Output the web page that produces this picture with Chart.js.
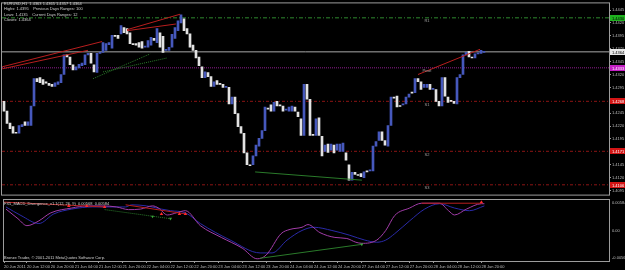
<!DOCTYPE html>
<html>
<head>
<meta charset="utf-8">
<script src="https://cdn.jsdelivr.net/npm/chart.js@4.4.0/dist/chart.umd.min.js"></script>
<style>
html, body { margin: 0; padding: 0; background: #000; }
#wrap { position: relative; width: 625px; height: 270px; overflow: hidden; background: #000; }
#main { position: absolute; left: 0; top: 0; }
#macd { position: absolute; left: 0; top: 196px; }
</style>
</head>
<body>
<div id="wrap">
  <canvas id="main" width="625" height="198"></canvas>
  <canvas id="macd" width="625" height="74"></canvas>
</div>
<script>
// EURUSD H1, bar 0 = 20 Jun 05:00
const opens = [
  1.4268,1.4249,1.4226,1.4219,1.4208,1.4206,1.4219,1.4228,1.4221,1.4221,
  1.4259,1.4312,1.4314,1.4310,1.4306,1.4303,1.4301,1.4297,1.4301,1.4304,
  1.4320,1.4358,1.4354,1.4339,1.4329,1.4333,1.4337,1.4339,1.4358,1.4361,
  1.4339,1.4324,1.4361,1.4363,1.4367,1.4378,1.4371,1.4396,1.4396,1.4399,
  1.4411,1.4409,1.4401,1.4380,1.4380,1.4382,1.4384,1.4373,1.4373,1.4377,
  1.4390,1.4382,1.4401,1.4394,1.4367,1.4367,1.4373,1.4390,1.4405,1.4420,
  1.4428,1.4409,1.4399,1.4377,1.4367,1.4354,1.4335,1.4314,1.4324,1.4316,
  1.4297,1.4308,1.4303,1.4301,1.4295,1.4295,1.4263,1.4276,1.4244,1.4219,
  1.4206,1.4168,1.4145,1.4145,1.4162,1.4181,1.4196,1.4211,1.4255,1.4261,
  1.4249,1.4268,1.4261,1.4259,1.4251,1.4249,1.4249,1.4257,1.4247,1.4234,
  1.4202,1.4301,1.4272,1.4204,1.4202,1.4236,1.4200,1.4171,1.4185,1.4173,
  1.4183,1.4173,1.4171,1.4171,1.4168,1.4145,1.4115,1.4130,1.4126,1.4128,
  1.4120,1.4133,1.4133,1.4133,1.4181,1.4192,1.4209,1.4192,1.4181,1.4221,
  1.4276,1.4278,1.4259,1.4261,1.4263,1.4276,1.4285,1.4285,1.4312,1.4306,
  1.4295,1.4295,1.4301,1.4291,1.4291,1.4268,1.4259,1.4314,1.4276,1.4270,
  1.4268,1.4263,1.4314,1.4320,1.4358,1.4365,1.4354,1.4352,1.4360,1.4361,
  1.4363
];
const closes = [
  1.4249,1.4225,1.4215,1.4206,1.4206,1.4221,1.4223,1.4221,1.4228,1.4259,
  1.4312,1.4306,1.4304,1.4301,1.4303,1.4299,1.4297,1.4304,1.4306,1.4320,
  1.4358,1.4354,1.4339,1.4329,1.4335,1.4340,1.4342,1.4358,1.4361,1.4342,
  1.4325,1.4361,1.4363,1.4382,1.4380,1.4382,1.4396,1.4394,1.4390,1.4415,
  1.4401,1.4399,1.4380,1.4378,1.4377,1.4373,1.4371,1.4375,1.4386,1.4392,
  1.4386,1.4409,1.4373,1.4363,1.4369,1.4373,1.4398,1.4411,1.4424,1.4436,
  1.4405,1.4399,1.4373,1.4367,1.4352,1.4337,1.4314,1.4325,1.4316,1.4297,
  1.4306,1.4301,1.4301,1.4295,1.4297,1.4263,1.4276,1.4244,1.4219,1.4206,
  1.4168,1.4145,1.4143,1.4162,1.4183,1.4196,1.4211,1.4257,1.4253,1.4249,
  1.4266,1.4259,1.4259,1.4249,1.4253,1.4257,1.4259,1.4249,1.4238,1.4202,
  1.4301,1.4272,1.4202,1.4202,1.4234,1.4202,1.4162,1.4183,1.4169,1.4185,
  1.4168,1.4185,1.4185,1.4187,1.4154,1.4115,1.4130,1.4126,1.4124,1.4122,
  1.4131,1.4131,1.4135,1.4181,1.4190,1.4209,1.4192,1.4183,1.4221,1.4276,
  1.4274,1.4257,1.4258,1.4263,1.4276,1.4282,1.4284,1.4312,1.4306,1.4291,
  1.4301,1.4301,1.4291,1.4293,1.4268,1.4259,1.4314,1.4278,1.4266,1.4268,
  1.4264,1.4314,1.4320,1.4358,1.4363,1.4354,1.4352,1.4360,1.4361,1.4367,
  1.4364
];

const priceTicks = [1.4445,1.4420,1.4395,1.4370,1.4345,1.4320,1.4295,1.4270,1.4245,1.4220,1.4195,1.4170,1.4145,1.4120,1.4095];

// pivot levels
const levelNames = ['R1', 'Pivot', 'S1', 'S2', 'S3'];
const levelValues = [1.4430, 1.4333, 1.4268, 1.4171, 1.4106];
const lastPrice = 1.4364;

// price boxes on the right axis
const axisMarkValues = [1.4430, 1.4364, 1.4333, 1.4268, 1.4171, 1.4106];
const axisMarkText = ['1.4430', '1.4364', '1.4333', '1.4268', '1.4171', '1.4106'];
const axisMarkColors = ['#1fb21f', '#e8e8e8', '#c41fc4', '#d41515', '#d41515', '#d41515'];

// divergence lines on price, [[bar, price], [bar, price]]
const priceBearLines = [
  [[-0.6, 1.4335], [32.7, 1.4384]],
  [[-0.6, 1.4331], [28, 1.4367]],
  [[41, 1.4407], [58.7, 1.4437]],
  [[41, 1.4405], [57.3, 1.4418]],
  [[138, 1.4320], [158.7, 1.4369]]
];
const priceBullDotted = [
  [[29.7, 1.4312], [48.7, 1.4360]],
  [[33, 1.4325], [54.3, 1.4352]]
];
const priceBullLines = [
  [[83.7, 1.4131], [119.3, 1.4115]]
];

// MACD (12,26,9)
const macdBars = [0,4,7,11,15,22,27,32,37,41,45,49,51,54,57,60,65,72,79,84,87,92,95,99,101,105,110,114,117,119,124,127,130,135,139,145,148,150,154,159,160];
const macdMain = [0.0041,0.0023,0.0010,0.0019,0.0034,0.0043,0.0047,0.0047,0.0045,0.0040,0.0041,0.0047,0.0043,0.0030,0.0034,0.0038,0.0010,-0.0012,-0.0032,-0.0052,-0.0045,-0.0005,0.0003,0.0007,0.0012,-0.0003,-0.0012,-0.0014,-0.0021,-0.0023,-0.0017,0.0001,0.0029,0.0043,0.0052,0.0052,0.0038,0.0030,0.0041,0.0051,0.0051];
const signalBars = [0,5,11,16,22,29,40,42,47,52,55,60,65,75,85,89,94,99,103,109,115,120,124,127,130,135,140,145,150,155,160];
const macdSignal = [0.0045,0.0029,0.0014,0.0032,0.0041,0.0045,0.0045,0.0049,0.0047,0.0041,0.0038,0.0034,0.0014,-0.0017,-0.0041,-0.0041,-0.0017,0.0001,0.0007,0.0001,-0.0008,-0.0017,-0.0021,-0.0017,-0.0005,0.0019,0.0041,0.0051,0.0043,0.0038,0.0047];

const macdBearLines = [
  [[-0.6, 0.0054], [33, 0.0045]],
  [[40, 0.0049], [60, 0.0032]],
  [[139, 0.0052], [159, 0.0052]]
];
const macdBullDotted = [[[33, 0.0040], [55, 0.0023]]];
const macdBullLines = [[[85, -0.0051], [119, -0.0025]]];
const bearArrows = [[21, 0.0047], [27, 0.0047], [33, 0.0045], [52, 0.0032], [58, 0.0032], [60, 0.0032], [159, 0.0054]];
const bullArrows = [[49, 0.0027], [55, 0.0023], [119, -0.0025]];
const macdAxisText = ['0.005846', '0.00', '-0.005643'];
const macdMin = -0.00561, macdMax = 0.0058;

const timeLabels = ['20 Jun 2011','20 Jun 12:00','20 Jun 20:00','21 Jun 04:00','21 Jun 12:00','21 Jun 20:00',
  '22 Jun 04:00','22 Jun 12:00','22 Jun 20:00','23 Jun 04:00','23 Jun 12:00','23 Jun 20:00',
  '24 Jun 04:00','24 Jun 12:00','24 Jun 20:00','27 Jun 04:00','27 Jun 12:00','27 Jun 20:00',
  '28 Jun 04:00','28 Jun 12:00','28 Jun 20:00'];
const timeTickBars = [-0.67,7,15,23,31,39,47,55,63,71,79,87,95,103,111,119,127,135,143,151,159];

const headerLines = [
  'EURUSD,H1  1.4363 1.4365 1.4357 1.4364',
  'Highs: 1.4395    Previous Days Ranges: 100',
  'Lows: 1.4135    Current Days Ranges: 12',
  'Closes: 1.4364'
];
const macdTitle = 'FX5_MACD_Divergence_v1.1(12, 26, 9)  0.00568  0.00584';
const copyright = 'Bronze Trader, \u00a9 2001-2011 MetaQuotes Software Corp.';

const X_MIN = -0.67, X_MAX = 201.67;
const FONT = '4px "Liberation Sans"';
const FRAME = '#9c9c9c';

const seg = (pts, color, dash, order) => ({
  type: 'line',
  data: pts.map(p => ({x: p[0], y: p[1]})),
  borderColor: color,
  borderWidth: 1,
  borderDash: dash,
  pointRadius: 0,
  order: order
});
const hline = (v, color, dash) => seg([[X_MIN, v], [X_MAX, v]], color, dash, 5);

const levelStyles = [['#2f8a2f', [4, 2, 1, 2]], ['#8e1c8e', [1, 1]], ['#8c1414', [3, 2, 1, 2]], ['#8c1414', [3, 2, 1, 2]], ['#8c1414', [3, 2, 1, 2]]];

const mainDatasets = [
  {
    type: 'bar',
    data: opens.map((o, i) => ({x: i, y: [o, closes[i]]})),
    backgroundColor: opens.map((o, i) => closes[i] > o ? '#4658bc' : '#e2e2e2'),
    borderWidth: 0,
    barThickness: 2,
    minBarLength: 1,
    order: 2
  },
  hline(lastPrice, '#a8a8a8', []),
  ...levelValues.map((v, k) => hline(v, levelStyles[k][0], levelStyles[k][1])),
  ...priceBearLines.map(l => seg(l, '#b81e1e', [], 0)),
  ...priceBullDotted.map(l => seg(l, '#2a7a2a', [1, 1], 0)),
  ...priceBullLines.map(l => seg(l, '#2a7a2a', [], 0))
];

const mainDecor = {
  id: 'mainDecor',
  afterDraw(chart) {
    const {ctx, chartArea: a} = chart;
    const x = chart.scales.x, y = chart.scales.y;
    ctx.save();
    ctx.strokeStyle = FRAME;
    ctx.lineWidth = 1;
    ctx.strokeRect(a.left - 0.5, a.top - 0.5, a.right - a.left + 1, a.bottom - a.top + 1);
    ctx.font = FONT;
    ctx.textBaseline = 'top';
    ctx.textAlign = 'center';
    ctx.fillStyle = '#a0a0a0';
    levelNames.forEach((n, k) => {
      ctx.fillText(n, x.getPixelForValue(141), y.getPixelForValue(levelValues[k]) + 1.5);
    });
    ctx.textAlign = 'left';
    ctx.textBaseline = 'middle';
    axisMarkValues.forEach((v, k) => {
      const py = Math.round(y.getPixelForValue(v));
      ctx.fillStyle = axisMarkColors[k];
      ctx.fillRect(a.right + 1, py - 3, 15, 6);
      ctx.fillStyle = k < 2 ? '#000' : '#fff';
      ctx.fillText(axisMarkText[k], a.right + 3, py + 0.5);
    });
    ctx.fillStyle = '#d0d0d0';
    ctx.textBaseline = 'top';
    headerLines.forEach((t, k) => ctx.fillText(t, 4, 2 + k * 5.3));
    ctx.restore();
  }
};

new Chart(document.getElementById('main'), {
  type: 'bar',
  data: {datasets: mainDatasets},
  options: {
    responsive: false,
    animation: false,
    layout: {padding: {left: 2, top: 2, right: 0, bottom: 1}},
    plugins: {legend: {display: false}, tooltip: {enabled: false}},
    scales: {
      x: {type: 'linear', min: X_MIN, max: X_MAX, offset: false, display: false},
      y: {
        type: 'linear',
        position: 'right',
        min: 1.4087,
        max: 1.4458,
        afterBuildTicks: (axis) => { axis.ticks = priceTicks.map(v => ({value: v})); },
        afterFit: (axis) => { axis.width = 16; },
        grid: {drawOnChartArea: false, tickLength: 2, color: FRAME},
        border: {display: false},
        ticks: {
          color: '#bcbcbc',
          font: {family: 'Liberation Sans', size: 4},
          padding: 1,
          callback: (v) => v.toFixed(4)
        }
      }
    }
  },
  plugins: [mainDecor]
});

const macdDatasets = [
  ...macdBearLines.map(l => seg(l, '#b81e1e', [], 1)),
  ...macdBullDotted.map(l => seg(l, '#2a7a2a', [1, 1], 1)),
  ...macdBullLines.map(l => seg(l, '#2a7a2a', [], 1)),
  {
    type: 'line',
    data: macdSignal.map((v, k) => ({x: signalBars[k], y: v})),
    borderColor: '#2a2aa8',
    borderWidth: 1,
    pointRadius: 0,
    cubicInterpolationMode: 'monotone',
    order: 3
  },
  {
    type: 'line',
    data: macdMain.map((v, k) => ({x: macdBars[k], y: v})),
    borderColor: '#a23ca8',
    borderWidth: 1,
    pointRadius: 0,
    cubicInterpolationMode: 'monotone',
    order: 2
  },
  {
    type: 'scatter',
    data: bearArrows.map(p => ({x: p[0], y: p[1]})),
    pointStyle: 'triangle',
    radius: 2,
    backgroundColor: '#ff2a2a',
    borderColor: '#ff2a2a',
    borderWidth: 0,
    order: 0
  },
  {
    type: 'scatter',
    data: bullArrows.map(p => ({x: p[0], y: p[1]})),
    pointStyle: 'triangle',
    rotation: 180,
    radius: 1.8,
    backgroundColor: '#3aa83a',
    borderColor: '#3aa83a',
    borderWidth: 0,
    order: 0
  }
];

const macdDecor = {
  id: 'macdDecor',
  afterDraw(chart) {
    const {ctx, chartArea: a} = chart;
    const y = chart.scales.y;
    ctx.save();
    ctx.strokeStyle = FRAME;
    ctx.lineWidth = 1;
    ctx.strokeRect(a.left - 0.5, a.top - 0.5, a.right - a.left + 1, a.bottom - a.top + 1);
    ctx.font = FONT;
    ctx.fillStyle = '#d0d0d0';
    ctx.textBaseline = 'top';
    ctx.fillText(macdTitle, 4, a.top + 2);
    ctx.textBaseline = 'bottom';
    ctx.fillText(copyright, 4, a.bottom - 1);
    ctx.fillStyle = '#bcbcbc';
    ctx.textBaseline = 'middle';
    const ys = [y.getPixelForValue(macdMax) + 3, y.getPixelForValue(0), y.getPixelForValue(macdMin) - 3];
    ys.forEach((py, k) => ctx.fillText(macdAxisText[k], a.right + 3, py));
    ctx.restore();
  }
};

new Chart(document.getElementById('macd'), {
  type: 'line',
  data: {datasets: macdDatasets},
  options: {
    responsive: false,
    animation: false,
    layout: {padding: {left: 2, top: 3, right: 0, bottom: 0}},
    plugins: {legend: {display: false}, tooltip: {enabled: false}},
    scales: {
      x: {
        type: 'linear',
        min: X_MIN,
        max: X_MAX,
        offset: false,
        afterBuildTicks: (axis) => { axis.ticks = timeTickBars.map(v => ({value: v})); },
        afterFit: (axis) => { axis.height = 9; },
        grid: {drawOnChartArea: false, tickLength: 2, color: FRAME},
        border: {display: false},
        ticks: {
          color: '#bcbcbc',
          font: {family: 'Liberation Sans', size: 4},
          padding: 1,
          align: 'start',
          maxRotation: 0,
          autoSkip: false,
          callback: (v, i) => timeLabels[i]
        }
      },
      y: {
        type: 'linear',
        position: 'right',
        min: macdMin,
        max: macdMax,
        afterFit: (axis) => { axis.width = 16; },
        grid: {display: false},
        border: {display: false},
        ticks: {display: false}
      }
    }
  },
  plugins: [macdDecor]
});
</script>
</body>
</html>
